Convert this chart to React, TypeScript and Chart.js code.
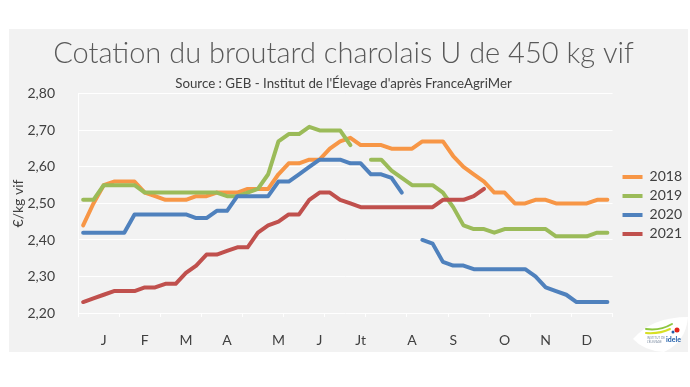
import React, { useEffect, useRef } from 'react';
import { Chart, registerables } from 'chart.js';

Chart.register(...registerables);

// ---- Data (weekly quotation, 52 weeks) ----
const weeks: string[] = [
  'S1','S2','S3','S4','S5','S6','S7','S8','S9','S10','S11','S12','S13',
  'S14','S15','S16','S17','S18','S19','S20','S21','S22','S23','S24','S25','S26',
  'S27','S28','S29','S30','S31','S32','S33','S34','S35','S36','S37','S38','S39',
  'S40','S41','S42','S43','S44','S45','S46','S47','S48','S49','S50','S51','S52',
];

const monthLabels: string[] = ['J', 'F', 'M', 'A', 'M', 'J', 'Jt', 'A', 'S', 'O', 'N', 'D'];
const monthWeekIndex: number[] = [2, 6, 10, 14, 19, 23, 27, 32, 36, 41, 45, 49];

const s2018: (number | null)[] = [
  2.44, 2.50, 2.55, 2.56, 2.56, 2.56, 2.53, 2.52, 2.51, 2.51,
  2.51, 2.52, 2.52, 2.53, 2.53, 2.53, 2.54, 2.54, 2.54, 2.58,
  2.61, 2.61, 2.62, 2.62, 2.65, 2.67, 2.68, 2.66, 2.66, 2.66,
  2.65, 2.65, 2.65, 2.67, 2.67, 2.67, 2.63, 2.60, 2.58, 2.56,
  2.53, 2.53, 2.50, 2.50, 2.51, 2.51, 2.50, 2.50, 2.50, 2.50, 2.51, 2.51,
];

const s2019: (number | null)[] = [
  2.51, 2.51, 2.55, 2.55, 2.55, 2.55, 2.53, 2.53, 2.53, 2.53,
  2.53, 2.53, 2.53, 2.53, 2.52, 2.52, 2.53, 2.54, 2.58, 2.67,
  2.69, 2.69, 2.71, 2.70, 2.70, 2.70, 2.66, null, 2.62, 2.62,
  2.59, 2.57, 2.55, 2.55, 2.55, 2.53, 2.49, 2.44, 2.43, 2.43,
  2.42, 2.43, 2.43, 2.43, 2.43, 2.43, 2.41, 2.41, 2.41, 2.41, 2.42, 2.42,
];

const s2020: (number | null)[] = [
  2.42, 2.42, 2.42, 2.42, 2.42, 2.47, 2.47, 2.47, 2.47, 2.47,
  2.47, 2.46, 2.46, 2.48, 2.48, 2.52, 2.52, 2.52, 2.52, 2.56,
  2.56, 2.58, 2.60, 2.62, 2.62, 2.62, 2.61, 2.61, 2.58, 2.58,
  2.57, 2.53, null, 2.40, 2.39, 2.34, 2.33, 2.33, 2.32, 2.32,
  2.32, 2.32, 2.32, 2.32, 2.30, 2.27, 2.26, 2.25, 2.23, 2.23, 2.23, 2.23,
];

const s2021: (number | null)[] = [
  2.23, 2.24, 2.25, 2.26, 2.26, 2.26, 2.27, 2.27, 2.28, 2.28,
  2.31, 2.33, 2.36, 2.36, 2.37, 2.38, 2.38, 2.42, 2.44, 2.45,
  2.47, 2.47, 2.51, 2.53, 2.53, 2.51, 2.50, 2.49, 2.49, 2.49,
  2.49, 2.49, 2.49, 2.49, 2.49, 2.51, 2.51, 2.51, 2.52, 2.54,
];

const seriesNames: string[] = ['2018', '2019', '2020', '2021'];
const seriesColors: string[] = ['#F79646', '#9BBB59', '#4F81BD', '#C0504D'];

const yMin = 2.2;
const yMax = 2.8;
const yStep = 0.1;

const titleText = 'Cotation du broutard charolais U de 450 kg vif';
const subtitleText = "Source : GEB - Institut de l'Élevage d'après FranceAgriMer";
const yAxisTitle = '€/kg vif';

const FONT = 'Lato, "Open Sans", "DejaVu Sans", sans-serif';

const bgPlugin = {
  id: 'bgPlugin',
  beforeDraw(chart: any) {
    const ctx = chart.ctx;
    ctx.save();
    ctx.fillStyle = '#ffffff';
    ctx.fillRect(0, 0, chart.width, chart.height);
    ctx.fillStyle = '#f2f2f2';
    ctx.fillRect(9, 29, 679, 323);
    ctx.restore();
  },
};

const legendShiftPlugin = {
  id: 'legendShift',
  afterLayout(chart: any) {
    const lg = chart.legend;
    if (lg) {
      lg.left += 5;
      lg.right += 5;
      lg.top += 2;
      lg.bottom += 2;
    }
  },
};

const logoPlugin = {
  id: 'logoPlugin',
  afterDraw(chart: any) {
    const ctx = chart.ctx;
    ctx.save();
    ctx.fillStyle = '#ffffff';
    ctx.beginPath();
    ctx.moveTo(633, 339);
    ctx.quadraticCurveTo(652, 317, 688, 317);
    ctx.quadraticCurveTo(686, 342, 664, 352);
    ctx.quadraticCurveTo(644, 351, 633, 339);
    ctx.closePath();
    ctx.fill();
    ctx.lineCap = 'round';
    ctx.lineWidth = 2;
    ctx.strokeStyle = '#8DC63F';
    ctx.beginPath();
    ctx.moveTo(646, 329);
    ctx.quadraticCurveTo(660, 331, 672, 324);
    ctx.stroke();
    ctx.strokeStyle = '#D7DF23';
    ctx.beginPath();
    ctx.moveTo(646, 333);
    ctx.quadraticCurveTo(660, 334, 670, 329);
    ctx.stroke();
    ctx.fillStyle = '#E2231A';
    ctx.beginPath();
    ctx.arc(677, 330, 2.5, 0, Math.PI * 2);
    ctx.fill();
    ctx.fillStyle = '#1F5DA8';
    ctx.beginPath();
    ctx.arc(673, 332, 1.5, 0, Math.PI * 2);
    ctx.fill();
    ctx.font = 'bold 7px ' + FONT;
    ctx.textBaseline = 'middle';
    ctx.fillText('idele', 666, 340);
    ctx.fillStyle = '#7a8aa0';
    ctx.font = '3px ' + FONT;
    ctx.fillText('INSTITUT DE', 647, 338);
    ctx.fillText("L'ÉLEVAGE", 647, 342);
    ctx.restore();
  },
};

function xLabelFor(index: number): string {
  const k = monthWeekIndex.indexOf(index);
  return k >= 0 ? monthLabels[k] : '';
}

export default function App() {
  const canvasRef = useRef<HTMLCanvasElement | null>(null);

  useEffect(() => {
    const canvas = canvasRef.current;
    if (!canvas) return;
    const seriesData = [s2018, s2019, s2020, s2021];
    const chart = new Chart(canvas, {
      type: 'line',
      data: {
        labels: weeks,
        datasets: seriesNames.map((name, i) => ({
          label: name,
          data: seriesData[i],
          borderColor: seriesColors[i],
          backgroundColor: seriesColors[i],
          pointBorderColor: seriesColors[i],
          pointBackgroundColor: seriesColors[i],
          pointBorderWidth: 4,
          borderWidth: 4,
          pointRadius: 0,
          pointHoverRadius: 0,
          tension: 0,
          borderJoinStyle: 'round',
          borderCapStyle: 'round',
          spanGaps: false,
          fill: false,
          order: seriesNames.length - i,
        })),
      },
      options: {
        responsive: false,
        animation: false,
        devicePixelRatio: 1,
        layout: { padding: { left: 0, right: 3, top: 0, bottom: 0 } },
        events: [],
        plugins: {
          title: {
            display: true,
            text: titleText,
            color: '#595959',
            font: { family: FONT, size: 29, weight: '300', lineHeight: 1.2 },
            padding: { top: 36, bottom: 0 },
          },
          subtitle: {
            display: true,
            text: subtitleText,
            color: '#404040',
            font: { family: FONT, size: 13.3, weight: 'normal', lineHeight: 1.2 },
            padding: { top: 5, bottom: 2.2 },
          },
          legend: {
            position: 'right',
            align: 'center',
            fullSize: false,
            reverse: true,
            labels: {
              usePointStyle: true,
              pointStyle: 'line',
              pointStyleWidth: 20,
              color: '#404040',
              font: { family: FONT, size: 14 },
              padding: 5,
            },
          },
          tooltip: { enabled: false },
        },
        scales: {
          x: {
            offset: true,
            grid: {
              offset: true,
              drawOnChartArea: false,
              drawTicks: true,
              tickLength: 4,
              lineWidth: 1,
              color: (ctx: any) =>
                ctx.index === undefined || ctx.index % 4 === 0 ? '#ffffff' : 'rgba(0,0,0,0)',
            },
            border: { display: false },
            ticks: {
              autoSkip: false,
              maxRotation: 0,
              minRotation: 0,
              padding: 15,
              color: '#404040',
              font: { family: FONT, size: 14 },
              callback: (_v: any, index: number) => xLabelFor(index),
            },
            afterFit: (scale: any) => {
              scale.height = 74;
            },
          },
          y: {
            min: yMin,
            max: yMax,
            ticks: {
              stepSize: yStep,
              padding: 23,
              color: '#404040',
              font: { family: FONT, size: 14 },
              callback: (v: any) => Number(v).toFixed(2).replace('.', ','),
            },
            grid: { color: '#ffffff', lineWidth: 1, drawTicks: false },
            border: { display: true, color: '#ffffff' },
            title: {
              display: true,
              text: yAxisTitle,
              color: '#404040',
              font: { family: FONT, size: 14 },
              padding: { top: 10, bottom: 0 },
            },
            afterFit: (scale: any) => {
              scale.width = 78;
            },
          },
        },
      },
      plugins: [bgPlugin, legendShiftPlugin, logoPlugin],
    } as any);
    return () => chart.destroy();
  }, []);

  return (
    <div style={{ position: 'absolute', left: 0, top: 0, width: 690, height: 387 }}>
      <canvas ref={canvasRef} width={690} height={387} style={{ display: 'block' }} />
    </div>
  );
}
